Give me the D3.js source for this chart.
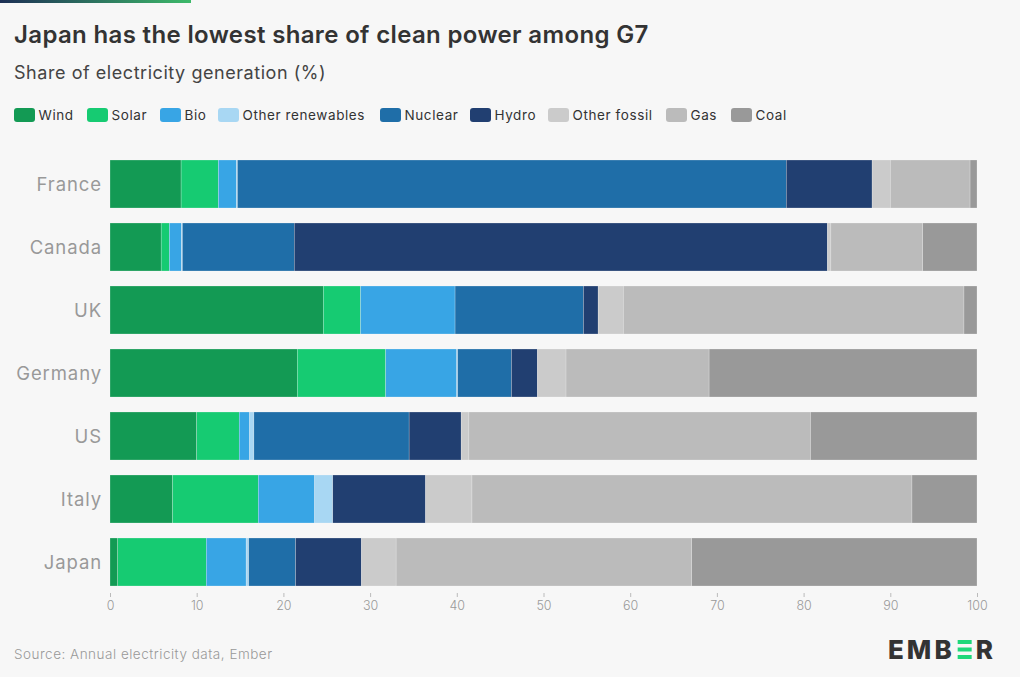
<!DOCTYPE html>
<html>
<head>
<meta charset="utf-8">
<script src="https://cdn.jsdelivr.net/npm/d3@7"></script>
<style>
  html, body { margin: 0; padding: 0; background: #f7f7f7; }
  svg { display: block; }
</style>
</head>
<body>
<div id="chart"></div>
<script>
const countries = ["France", "Canada", "UK", "Germany", "US", "Italy", "Japan"];
const seriesNames = ["Wind", "Solar", "Bio", "Other renewables", "Nuclear", "Hydro", "Other fossil", "Gas", "Coal"];
const wind      = [8.2, 5.9, 24.6, 21.6, 10.0, 7.2, 0.9];
const solar     = [4.3, 0.95, 4.3, 10.2, 4.9, 9.9, 10.2];
const bio       = [2.1, 1.4, 10.9, 8.2, 1.2, 6.5, 4.6];
const otherRen  = [0.1, 0.1, 0.0, 0.1, 0.5, 2.1, 0.3];
const nuclear   = [63.3, 12.9, 14.8, 6.2, 17.9, 0.0, 5.4];
const hydro     = [9.9, 61.5, 1.7, 3.0, 6.0, 10.7, 7.6];
const otherFos  = [2.1, 0.4, 2.9, 3.3, 0.9, 5.35, 4.0];
const gas       = [9.2, 10.6, 39.3, 16.5, 39.4, 50.75, 34.1];
const coal      = [0.8, 6.25, 1.5, 30.9, 19.2, 7.5, 32.9];
const xTicks = [0, 10, 20, 30, 40, 50, 60, 70, 80, 90, 100];
const colors = ["#139a54", "#16cb72", "#38a5e5", "#a8d7f3", "#1f6ea8", "#213f71", "#cbcbcb", "#bbbbbb", "#999999"];

const seriesValues = [wind, solar, bio, otherRen, nuclear, hydro, otherFos, gas, coal];
const rows = countries.map((c, i) => {
  const r = { country: c };
  seriesNames.forEach((s, j) => r[s] = seriesValues[j][i]);
  return r;
});

const W = 1020, H = 677;
const FONT = "Inter, 'Noto Sans', sans-serif";
const svg = d3.select("#chart").append("svg").attr("width", W).attr("height", H)
  .style("font-family", FONT);

svg.append("rect").attr("width", W).attr("height", H).attr("fill", "#f7f7f7");

// top gradient bar
const defs = svg.append("defs");
const grad = defs.append("linearGradient").attr("id", "topgrad");
grad.append("stop").attr("offset", "0%").attr("stop-color", "#1d2f55");
grad.append("stop").attr("offset", "100%").attr("stop-color", "#3dba6a");
svg.append("rect").attr("x", 0).attr("y", 0).attr("width", 191).attr("height", 3).attr("fill", "url(#topgrad)");

// title & subtitle
svg.append("text").attr("x", 14).attr("y", 43)
  .attr("font-size", 24).attr("font-weight", 600).attr("fill", "#333")
  .attr("letter-spacing", 0.35)
  .text("Japan has the lowest share of clean power among G7");
svg.append("text").attr("x", 14).attr("y", 79)
  .attr("font-size", 18).attr("font-weight", 400).attr("fill", "#444")
  .attr("letter-spacing", 0.55)
  .text("Share of electricity generation (%)");

// legend
const legendX = [14, 87, 160, 218, 380, 470, 548, 666, 731];
const lg = svg.append("g");
seriesNames.forEach((s, i) => {
  const g = lg.append("g").attr("transform", `translate(${legendX[i]},108)`);
  g.append("rect").attr("width", 21).attr("height", 14).attr("rx", 3).attr("fill", colors[i]);
  g.append("text").attr("x", 24.5).attr("y", 11.5).attr("font-size", 13.5).attr("fill", "#333")
    .attr("letter-spacing", 0.6).text(s);
});

// scales
const x = d3.scaleLinear().domain([0, 100]).range([110, 977]);
const y = d3.scaleBand().domain(countries).range([152.5, 593.5]).paddingInner(15 / 63).paddingOuter(15 / 126);

const stack = d3.stack().keys(seriesNames);
const stacked = stack(rows);

const barsG = svg.append("g");
stacked.forEach((layer, i) => {
  barsG.append("g").attr("fill", colors[i])
    .selectAll("rect").data(layer).join("rect")
    .attr("x", d => x(d[0]))
    .attr("y", d => y(d.data.country))
    .attr("width", d => Math.max(0, x(d[1]) - x(d[0])))
    .attr("height", y.bandwidth())
    .attr("stroke", "#f7f7f7").attr("stroke-width", 0.4).attr("stroke-opacity", 0.6);
});

// category labels
svg.append("g").selectAll("text").data(countries).join("text")
  .attr("x", 102)
  .attr("y", d => y(d) + y.bandwidth() / 2 + 6.5)
  .attr("text-anchor", "end")
  .attr("font-size", 18.5).attr("fill", "#999").attr("letter-spacing", 0.9)
  .text(d => d);

// x axis
const xAxis = d3.axisBottom(x).tickValues(xTicks).tickSize(4).tickPadding(4);
const ax = svg.append("g").attr("transform", "translate(0,593)").call(xAxis);
ax.select(".domain").remove();
ax.selectAll(".tick line").attr("stroke", "#bbb");
ax.selectAll(".tick text").attr("font-size", 12.5).attr("fill", "#999").attr("font-weight", 300)
  .style("font-family", FONT);

// source
svg.append("text").attr("x", 14).attr("y", 659)
  .attr("font-size", 13.5).attr("font-weight", 300).attr("fill", "#999")
  .attr("letter-spacing", 0.5)
  .text("Source: Annual electricity data, Ember");

// logo
const logo = svg.append("g").attr("transform", "translate(888,659)");
const t1 = logo.append("text").attr("x", 0).attr("y", 0)
  .attr("font-size", 26).attr("font-weight", 800).attr("fill", "#333").attr("letter-spacing", 3)
  .text("EMB");
const w1 = t1.node().getComputedTextLength() + 3;
[0, 1, 2].forEach(k => {
  logo.append("rect").attr("x", w1).attr("y", -19 + k * 7.5).attr("width", 14).attr("height", 4)
    .attr("fill", "#1ed87a");
});
logo.append("text").attr("x", w1 + 18).attr("y", 0)
  .attr("font-size", 26).attr("font-weight", 800).attr("fill", "#333")
  .text("R");
</script>
</body>
</html>
